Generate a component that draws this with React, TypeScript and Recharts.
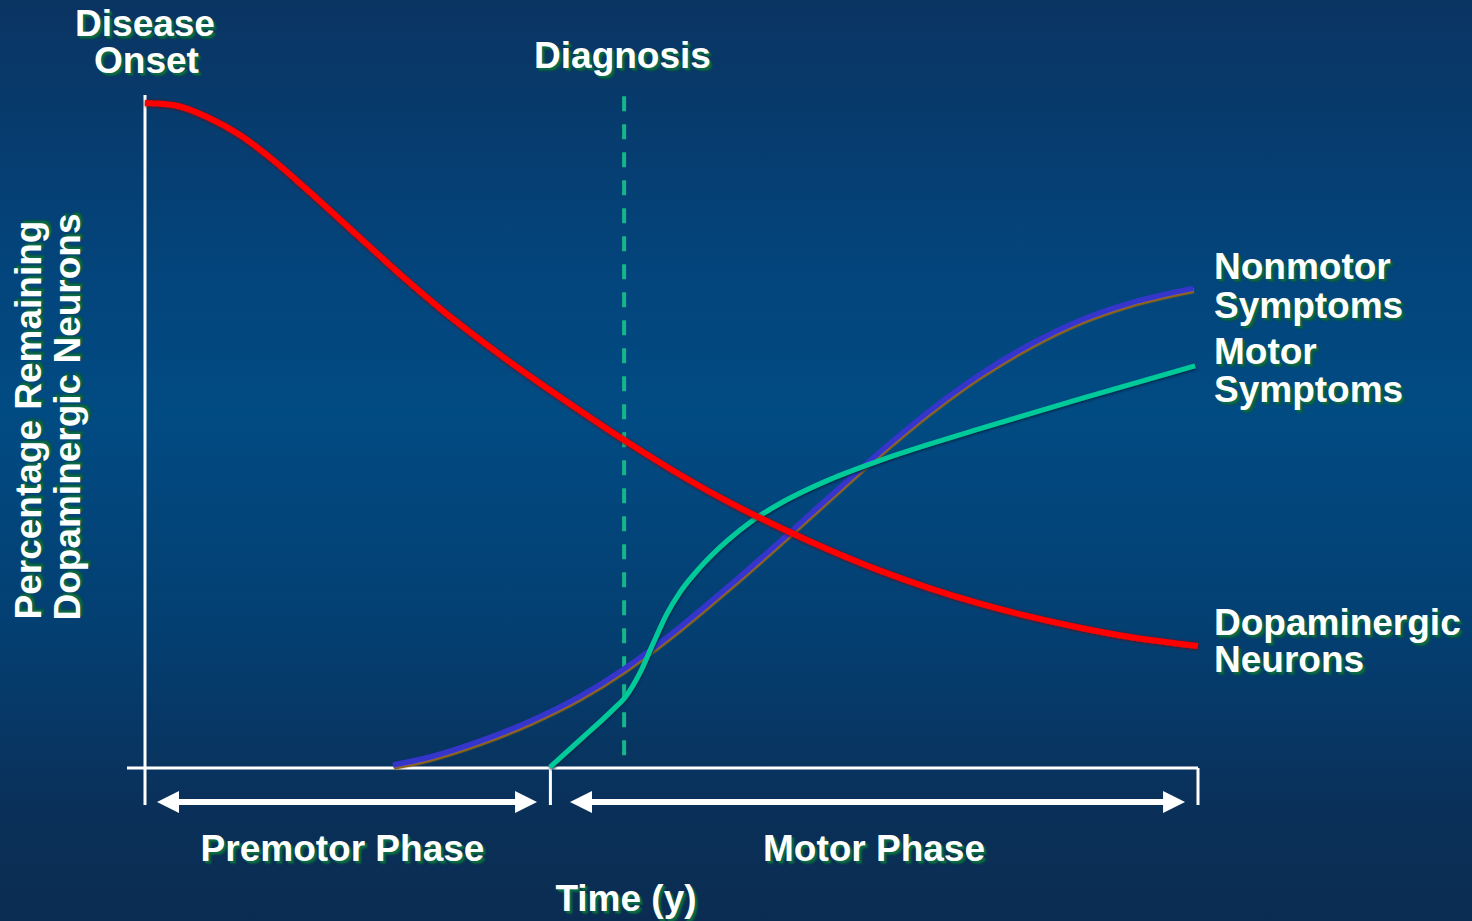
import { ComposedChart, Line, XAxis, YAxis, ReferenceLine, ReferenceDot } from "recharts";

const W = 1472;
const H = 921;

// time axis: 0 = disease onset, 100 = end of plotted span (arbitrary units)
// remaining dopaminergic neurons (%)
const neuronX = [0, 2.66, 5.89, 9.02, 12.16, 15.38, 18.52, 21.65, 24.88, 28.01, 31.15, 34.38, 37.51, 40.65, 45.39, 49.86, 54.61, 60.3, 65.05, 69.8, 74.55, 79.3, 84.05, 88.79, 93.54, 100];
const neuronY = [99.55, 99.25, 97.46, 94.76, 91.02, 86.6, 82.1, 77.6, 73.0, 68.8, 64.9, 61.1, 57.6, 54.2, 49.2, 44.8, 40.5, 36.0, 32.6, 29.55, 26.9, 24.6, 22.65, 21.0, 19.6, 18.25];

// nonmotor symptom burden
const nonmotorX = [23.55, 27.07, 31.81, 36.56, 41.31, 45.39, 47.67, 50.81, 55.56, 60.3, 65.05, 69.8, 74.55, 79.3, 84.05, 88.79, 93.54, 99.53];
const nonmotorY = [0.45, 1.65, 4.02, 7.01, 10.72, 14.72, 17.27, 21.1, 27.37, 33.91, 40.66, 47.31, 53.49, 58.9, 63.4, 67.0, 69.6, 71.8];

// motor symptom burden
const motorX = [38.46, 41.31, 44.44, 45.58, 47.01, 48.24, 49.57, 50.81, 52.71, 55.27, 57.74, 60.3, 65.05, 69.8, 79.3, 88.79, 99.72];
const motorY = [0.15, 4.2, 8.74, 10.56, 14.28, 18.59, 23.11, 26.33, 30.03, 34.0, 37.09, 39.6, 43.21, 46.06, 50.81, 55.27, 60.19];

const diagnosisX = 45.5;
const motorOnsetX = 38.5;
const phaseArrowY = -5.09;
const premotorSpan = [1.14, 37.23];
const motorSpan = [40.36, 98.77];

const zip = (xs: number[], ys: number[]) => xs.map((x, i) => ({ x, y: ys[i] }));
const neurons = zip(neuronX, neuronY);
const nonmotor = zip(nonmotorX, nonmotorY);
const motor = zip(motorX, motorY);

type Txt = { text: string; x: number; y: number; align?: "center" | "left" | "rotate" };

const labels: Txt[] = [
  { text: "Disease", x: 145, y: 22.5 },
  { text: "Onset", x: 146.5, y: 59.5 },
  { text: "Diagnosis", x: 622.5, y: 55 },
  { text: "Premotor Phase", x: 342.5, y: 848 },
  { text: "Motor Phase", x: 874, y: 848 },
  { text: "Time (y)", x: 626, y: 898 },
  { text: "Nonmotor", x: 1214, y: 266, align: "left" },
  { text: "Symptoms", x: 1214, y: 305, align: "left" },
  { text: "Motor", x: 1214, y: 351, align: "left" },
  { text: "Symptoms", x: 1214, y: 388.5, align: "left" },
  { text: "Dopaminergic", x: 1214, y: 621.5, align: "left" },
  { text: "Neurons", x: 1214, y: 659, align: "left" },
  { text: "Percentage Remaining", x: 28, y: 419.5, align: "rotate" },
  { text: "Dopaminergic Neurons", x: 66.5, y: 416.5, align: "rotate" },
];

const arrowHead = (dir: "left" | "right") => (p: any) => {
  const { cx, cy } = p;
  const d = dir === "left" ? 1 : -1;
  return (
    <path
      d={`M${cx},${cy} L${cx + d * 22},${cy - 11} L${cx + d * 22},${cy + 11} Z`}
      fill="#ffffff"
    />
  );
};

const css = `
.nm-line .recharts-line-curve { filter: url(#nmShadow); }
.red-line .recharts-line-curve { filter: url(#redGlow); }
.teal-line .recharts-line-curve { filter: url(#tealShadow); }
`;

export default function App() {
  return (
    <div
      style={{
        position: "absolute",
        left: 0,
        top: 0,
        width: W,
        height: H,
        overflow: "hidden",
        background:
          "linear-gradient(to bottom, #0a3462 0%, #03457c 30%, #014b83 45%, #043e70 70%, #0a3059 88%, #0b2c52 100%)",
      }}
    >
      <style>{css}</style>
      <svg width={0} height={0} style={{ position: "absolute" }}>
        <defs>
          <filter id="nmShadow" x="-5%" y="-5%" width="110%" height="110%">
            <feDropShadow dx="0.8" dy="2.2" stdDeviation="0.4" floodColor="#8a6418" />
          </filter>
          <filter id="redGlow" x="-5%" y="-5%" width="110%" height="110%">
            <feDropShadow dx="0" dy="0.5" stdDeviation="1.4" floodColor="#7a0a10" />
          </filter>
          <filter id="tealShadow" x="-5%" y="-5%" width="110%" height="110%">
            <feDropShadow dx="0.5" dy="1.5" stdDeviation="1" floodColor="#00284a" />
          </filter>
        </defs>
      </svg>
      <ComposedChart width={W} height={H} margin={{ top: 100, right: 274, bottom: 153, left: 145 }}>
        <XAxis type="number" dataKey="x" domain={[0, 100]} hide />
        <YAxis type="number" dataKey="y" domain={[0, 100]} hide />

        <ReferenceLine
          segment={[{ x: diagnosisX, y: 1.9 }, { x: diagnosisX, y: 100.7 }]}
          stroke="#14b68a"
          strokeWidth={4}
          strokeDasharray="15 13"
          ifOverflow="visible"
        />

        {/* axes */}
        <ReferenceLine segment={[{ x: 0, y: -5.54 }, { x: 0, y: 100.75 }]} stroke="#ffffff" strokeWidth={3} ifOverflow="visible" />
        <ReferenceLine segment={[{ x: -1.71, y: 0 }, { x: 100, y: 0 }]} stroke="#ffffff" strokeWidth={3} ifOverflow="visible" />
        <ReferenceLine segment={[{ x: motorOnsetX, y: 0 }, { x: motorOnsetX, y: -5.54 }]} stroke="#ffffff" strokeWidth={3} ifOverflow="visible" />
        <ReferenceLine segment={[{ x: 100, y: 0 }, { x: 100, y: -5.54 }]} stroke="#ffffff" strokeWidth={3} ifOverflow="visible" />

        {/* phase arrows */}
        <ReferenceLine
          segment={[{ x: premotorSpan[0] + 1, y: phaseArrowY }, { x: premotorSpan[1] - 1, y: phaseArrowY }]}
          stroke="#ffffff"
          strokeWidth={6}
          ifOverflow="visible"
        />
        <ReferenceLine
          segment={[{ x: motorSpan[0] + 1, y: phaseArrowY }, { x: motorSpan[1] - 1, y: phaseArrowY }]}
          stroke="#ffffff"
          strokeWidth={6}
          ifOverflow="visible"
        />
        <ReferenceDot x={premotorSpan[0]} y={phaseArrowY} ifOverflow="visible" shape={arrowHead("left")} />
        <ReferenceDot x={premotorSpan[1]} y={phaseArrowY} ifOverflow="visible" shape={arrowHead("right")} />
        <ReferenceDot x={motorSpan[0]} y={phaseArrowY} ifOverflow="visible" shape={arrowHead("left")} />
        <ReferenceDot x={motorSpan[1]} y={phaseArrowY} ifOverflow="visible" shape={arrowHead("right")} />

        <Line
          data={nonmotor}
          dataKey="y"
          type="monotone"
          stroke="#3634cc"
          strokeWidth={5.5}
          dot={false}
          className="nm-line"
          isAnimationActive={false}
        />
        <Line
          data={motor}
          dataKey="y"
          type="monotone"
          stroke="#06c99a"
          strokeWidth={5}
          dot={false}
          className="teal-line"
          isAnimationActive={false}
        />
        <Line
          data={neurons}
          dataKey="y"
          type="monotone"
          stroke="#ff0000"
          strokeWidth={6}
          dot={false}
          className="red-line"
          isAnimationActive={false}
        />
      </ComposedChart>

      {labels.map((l, i) => (
        <div
          key={i}
          style={{
            position: "absolute",
            left: l.x,
            top: l.y + 0.4,
            transform:
              l.align === "left"
                ? "translate(0, -50%)"
                : l.align === "rotate"
                ? "translate(-50%, -50%) rotate(-90deg)"
                : "translate(-50%, -50%)",
            whiteSpace: "nowrap",
            color: "#ffffff",
            fontFamily: "Arial, 'Liberation Sans', sans-serif",
            fontWeight: 700,
            fontSize: 37,
            lineHeight: "37px",
            textShadow: "2px 2px 1px #0b6a48, 3px 3px 2px #0b5a3c",
          }}
        >
          {l.text}
        </div>
      ))}
    </div>
  );
}
